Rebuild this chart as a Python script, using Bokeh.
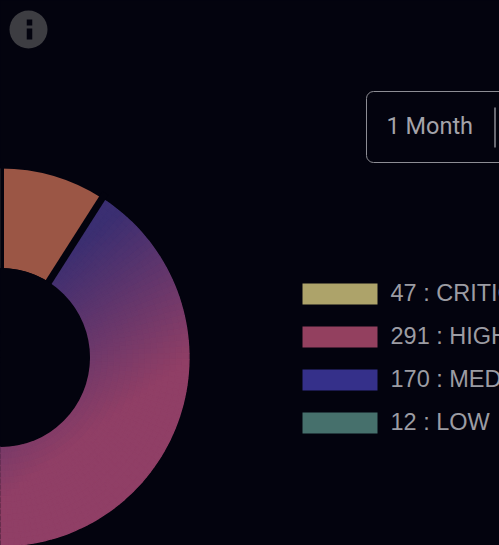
import math
from bokeh.plotting import figure
from bokeh.models import BoxAnnotation
from bokeh.core.properties import value
from bokeh.embed import file_html
from bokeh.resources import INLINE

values = [47, 291, 170, 12]
names = ["CRITICAL", "HIGH", "MEDIUM", "LOW"]
legend_colors = ["#ada36a", "#93405f", "#35308a", "#46706c"]
slice_colors = ["#9b5645", "#903f66", "#35308a", "#46706c"]
gradient_start = (59, 47, 114)
gradient_end = (144, 63, 102)
button_label = "1 Month"

BG = "#03030e"
W, H = 499, 545
CX, CY = 0, H - 357
R_IN, R_OUT = 89.5, 189

p = figure(width=W, height=H, x_range=(0, W), y_range=(0, H),
           output_backend="svg", toolbar_location=None,
           background_fill_color=BG, border_fill_color=BG,
           min_border=0, outline_line_color=None)
p.axis.visible = False
p.grid.visible = False

# slice boundaries, clockwise from the top, in math angles
total = sum(values)
edges = [0.0]
for v in values:
    edges.append(edges[-1] + v / total * 2 * math.pi)
to_math = lambda a: math.pi / 2 - a

# plain slices
for i in (0, 2, 3):
    p.annular_wedge(x=CX, y=CY, inner_radius=R_IN, outer_radius=R_OUT,
                    start_angle=to_math(edges[i + 1]), end_angle=to_math(edges[i]),
                    fill_color=slice_colors[i], line_color=None)

# HIGH slice: linear colour gradient drawn as small polar cells
xs, ys, ri, ro, a0, a1, cols = [], [], [], [], [], [], []
n_r, n_a = 16, 104
for j in range(n_r):
    r0 = R_IN + (R_OUT - 0.6 - R_IN) * j / n_r
    r1 = R_IN + (R_OUT - 0.6 - R_IN) * (j + 1) / n_r
    for k in range(n_a):
        b0 = edges[1] + (edges[2] - edges[1]) * k / n_a
        b1 = edges[1] + (edges[2] - edges[1]) * (k + 1) / n_a
        rm, bm = (r0 + r1) / 2, (b0 + b1) / 2
        px = rm * math.sin(bm)
        py = -rm * math.cos(bm) + 357
        t = min(1, max(0, (0.6 * px + 0.8 * py - 240) / 160))
        c = tuple(int(gradient_start[m] + (gradient_end[m] - gradient_start[m]) * t) for m in range(3))
        xs.append(CX); ys.append(CY); ri.append(r0); ro.append(r1)
        a0.append(to_math(b1)); a1.append(to_math(b0))
        cols.append("#%02x%02x%02x" % c)
p.annular_wedge(x=xs, y=ys, inner_radius=ri, outer_radius=ro, start_angle=a0, end_angle=a1,
                fill_color=cols, line_color=cols, line_width=1.4)

# gaps between slices
for e in edges[:-1]:
    p.segment(x0=CX, y0=CY,
              x1=CX + (R_OUT + 6) * math.cos(to_math(e)),
              y1=CY + (R_OUT + 6) * math.sin(to_math(e)),
              line_color=BG, line_width=7)
p.circle(x=CX, y=CY, radius=R_IN, fill_color=BG, line_color=None)

# legend
for i in range(4):
    yc = H - (293.5 + i * 43)
    p.rect(x=339.5, y=yc, width=75, height=21, fill_color=legend_colors[i], line_color=None)
    p.text(x=[390], y=[yc + 1.5], text=[f"{values[i]} : {names[i]}"],
           text_font=value("Liberation Sans"), text_font_size="23.5px",
           text_color="#9c9ca3", text_baseline="middle", text_align="left")

# range button
p.add_layout(BoxAnnotation(left=366, right=530, top=H - 91, bottom=H - 162,
                           fill_alpha=0, line_color="#8d8d94", line_alpha=1, line_width=1, border_radius=7))
p.text(x=[386], y=[H - 125], text=[button_label], text_font=value("Roboto"),
       text_font_size="23.5px", text_color="#a3a3aa", text_baseline="middle", text_align="left")
p.segment(x0=[494.5], y0=[H - 107], x1=[494.5], y1=[H - 147], line_color="#8d8d94", line_width=1.5)

# info icon
p.circle(x=28, y=H - 29, radius=19, fill_color="#3d3d42", line_color=None)
p.rect(x=29, y=H - 22, width=5.5, height=6, fill_color=BG, line_color=None)
p.rect(x=29, y=H - 33.5, width=5.5, height=11, fill_color=BG, line_color=None)

html = file_html(p, INLINE)
html = html.replace("<head>", "<head><style>html,body{margin:0;padding:0;overflow:hidden;background:%s}</style>" % BG, 1)
open("out.html", "w").write(html)
